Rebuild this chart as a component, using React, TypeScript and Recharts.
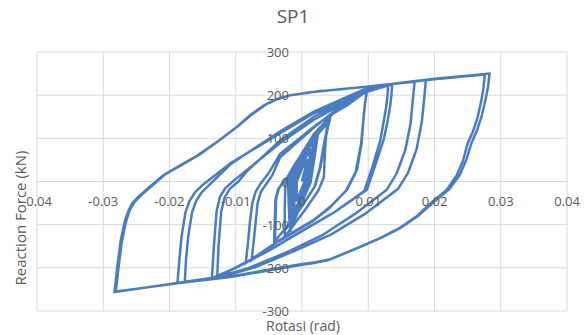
import React from 'react';
import { LineChart, Line, XAxis, YAxis, CartesianGrid } from 'recharts';

// rotation (rad) / reaction force (kN) pairs, grouped by loading stage
const smallCycles: [number, number][] = [
  [0, 0], [0.0004, 25],
  [0.0008, 50], [0.0006, 25], [0.0004, 0], [-0.0002, -22], [-0.0008, -45], [-0.0008, -22], [-0.0008, 0], [0, 30],
  [0.0008, 52], [0.0006, 26], [0.0004, -2], [-0.0002, -24], [-0.0008, -46], [-0.0009, -22], [-0.0009, 0], [0, 40],
  [0.0013, 75], [0.001, 38], [0.0007, 0], [-0.0002, -35], [-0.0011, -70], [-0.0012, -35], [-0.0012, 0], [0, 45],
  [0.0013, 77], [0.001, 38], [0.0007, -2], [-0.0002, -36], [-0.0011, -72], [-0.0012, -35], [-0.0012, 2], [0.0001, 55],
  [0.0018, 95], [0.0014, 48], [0.0009, 0], [-0.0003, -45], [-0.0014, -90], [-0.0015, -45], [-0.0015, 0], [0.0001, 57],
  [0.0018, 97], [0.0014, 48], [0.0009, -2], [-0.0003, -46], [-0.0014, -92], [-0.0015, -45], [-0.0015, 2], [0.0001, 62],
  [0.0022, 110], [0.0017, 55], [0.0011, 0], [-0.0003, -52], [-0.0016, -105], [-0.0018, -52], [-0.0018, 0], [0.0001, 64],
  [0.0022, 112], [0.0017, 56], [0.0011, -2], [-0.0003, -53], [-0.0016, -106], [-0.0018, -52], [-0.0018, 2], [0.0002, 70],
  [0.0025, 122], [0.0019, 60], [0.0013, 0], [-0.0003, -58], [-0.0018, -116], [-0.002, -58], [-0.002, 0], [0.0002, 71],
  [0.0025, 120], [0.0019, 58], [0.0013, -2], [-0.0003, -58], [-0.0018, -115], [-0.002, -56], [-0.0021, 0], [0.0005, 75],
  [0.0038, 135], [0.0035, 80], [0.0033, 10], [0.0025, -20], [0.0005, -65], [-0.0026, -128], [-0.0026, -60], [-0.0025, -5], [-0.0018, 15],
];

const stageB: [number, number][] = [
  [0.0005, 70], [0.003, 124], [0.0043, 150], [0.0039, 125], [0.0035, 95], [0.0028, 35], [0.002, -10], [0.0005, -45], [-0.0015, -90], [-0.0042, -140],
  [-0.0041, -90], [-0.004, -42], [-0.0036, -18], [-0.0029, -2], [-0.0022, 10], [-0.001, 42], [0.0015, 98], [0.0042, 148],
  [0.0038, 122], [0.0034, 94], [0.0027, 32], [0.0019, -12], [0.0004, -48], [-0.0016, -92], [-0.0041, -138],
  [-0.004, -88], [-0.0039, -40], [-0.0035, -16], [-0.0028, -1], [-0.0021, 12],
];

const stageC: [number, number][] = [
  [-0.001, 40], [0.0018, 110], [0.0045, 155], [0.0068, 180], [0.0098, 212],
  [0.0095, 180], [0.0093, 150], [0.009, 89], [0.0083, 27], [0.0068, -19], [0.0043, -58], [0.0018, -89], [-0.0033, -135], [-0.0085, -189],
  [-0.0082, -150], [-0.0079, -100], [-0.0075, -50], [-0.007, -24], [-0.0063, -6], [-0.005, 20], [-0.0033, 64], [0.0018, 127], [0.0045, 156], [0.0068, 176], [0.0098, 210],
  [0.0095, 178], [0.0093, 148], [0.0089, 85], [0.0081, 22], [0.0066, -22], [0.0041, -62], [0.0016, -92], [-0.0035, -138], [-0.0076, -182],
  [-0.0073, -140], [-0.007, -95], [-0.0067, -50], [-0.0062, -24], [-0.0055, -8], [-0.0045, 14],
];

const stageD: [number, number][] = [
  [-0.0033, 56], [0.0018, 125], [0.0045, 158], [0.0068, 182], [0.01, 214], [0.0136, 224],
  [0.0135, 200], [0.0133, 174], [0.0128, 130], [0.0123, 96], [0.011, 35], [0.0098, -19], [0.005, -70], [0, -115], [-0.005, -160], [-0.01, -200], [-0.0136, -224],
  [-0.0133, -150], [-0.0129, -70], [-0.0124, -36], [-0.0116, -16], [-0.0103, 2], [-0.0083, 27], [-0.0033, 89], [0.0018, 143], [0.0068, 185], [0.0098, 208], [0.013, 222],
  [0.0129, 198], [0.0127, 172], [0.0122, 128], [0.0118, 94], [0.0106, 32], [0.0094, -22], [0.0046, -74], [-0.0004, -118], [-0.0052, -162], [-0.0128, -221],
  [-0.0126, -150], [-0.0122, -70], [-0.0117, -38], [-0.0109, -17], [-0.0096, 0],
];

const stageE: [number, number][] = [
  [-0.0083, 24], [-0.0033, 95], [0.0018, 150], [0.0068, 190], [0.01, 216], [0.0136, 226], [0.017, 231],
  [0.0167, 185], [0.0164, 135], [0.0156, 73], [0.0143, 19], [0.0128, -19], [0.008, -75], [0.003, -125], [-0.002, -162], [-0.008, -200], [-0.013, -222], [-0.0188, -235],
  [-0.0185, -180], [-0.0182, -130], [-0.0176, -72], [-0.017, -46], [-0.0162, -26], [-0.015, -8], [-0.0108, 42], [-0.0033, 112], [0.0018, 158], [0.0068, 189], [0.0098, 208], [0.014, 227], [0.0187, 235],
  [0.0184, 185], [0.0181, 140], [0.0173, 75], [0.016, 20], [0.0145, -17], [0.0095, -75], [0.0045, -122], [-0.001, -160], [-0.007, -198], [-0.012, -220], [-0.0177, -232],
  [-0.0175, -180], [-0.0172, -130], [-0.0166, -72], [-0.016, -46], [-0.0152, -26], [-0.0138, -5],
];

const stageF: [number, number][] = [
  [-0.0108, 40], [-0.0033, 116], [0.0018, 162], [0.0068, 196], [0.01, 217], [0.015, 229], [0.02, 238], [0.0283, 250],
  [0.0281, 220], [0.0277, 190], [0.0271, 150], [0.0264, 118], [0.0256, 90], [0.0248, 50], [0.0238, 15], [0.0222, -18], [0.02, -46], [0.0175, -80], [0.0148, -108], [0.012, -130],
  [0.0093, -148], [0.0065, -166], [0.0043, -180], [0.002, -187], [0, -191], [-0.0108, -220], [-0.0188, -235], [-0.0283, -256],
  [-0.0279, -200], [-0.0274, -140], [-0.0268, -95], [-0.0262, -68], [-0.0256, -50], [-0.0246, -34], [-0.0234, -18], [-0.0209, 15], [-0.0185, 36], [-0.0158, 60], [-0.0128, 92], [-0.0098, 127],
  [-0.0078, 154], [-0.0058, 176], [-0.004, 190], [-0.002, 199], [0.0012, 207], [0.01, 220], [0.02, 237], [0.0276, 248],
  [0.0274, 218], [0.0271, 190], [0.0265, 148], [0.0258, 116], [0.025, 88], [0.0243, 48], [0.0233, 13], [0.0218, -20], [0.0196, -48], [0.0172, -82], [0.0145, -110], [0.0117, -132],
  [0.009, -150], [0.0062, -168], [0.004, -182], [0.0018, -189], [0, -193], [-0.0108, -221], [-0.0188, -236], [-0.0281, -255],
  [-0.0277, -200], [-0.0272, -140], [-0.0266, -95], [-0.026, -66], [-0.0253, -48], [-0.0243, -32], [-0.0231, -16], [-0.0206, 17], [-0.0182, 38], [-0.0155, 62], [-0.0125, 95], [-0.0095, 130],
  [-0.0075, 156], [-0.0055, 178], [-0.0037, 191], [-0.0017, 200], [0.003, 210],
];

const xTicks = [-0.04, -0.03, -0.02, -0.01, 0, 0.01, 0.02, 0.03, 0.04];
const yTicks = [-300, -200, -100, 0, 100, 200, 300];

const data = [...smallCycles, ...stageB, ...stageC, ...stageD, ...stageE, ...stageF].map(([rot, force]) => ({ rot, force }));

const W = 586;
const H = 335;
const PLOT_LEFT = 37;
const PLOT_TOP = 52;
const PLOT_RIGHT = 567;
const PLOT_BOTTOM = 311;
const zeroX = (PLOT_LEFT + PLOT_RIGHT) / 2;
const zeroY = (PLOT_TOP + PLOT_BOTTOM) / 2;
const textColor = '#595959';
const font = '"Open Sans", sans-serif';

const renderXTick = (props: any) => {
  const { x, payload } = props;
  return (
    <text x={x} y={zeroY + 24} textAnchor="middle" fill={textColor} fontSize={13} fontFamily={font}>
      {String(payload.value)}
    </text>
  );
};

const renderYTick = (props: any) => {
  const { y, payload } = props;
  return (
    <text x={zeroX - 13} y={y + 5} textAnchor="end" fill={textColor} fontSize={13} fontFamily={font}>
      {String(payload.value)}
    </text>
  );
};

export default function App() {
  return (
    <div style={{ position: 'absolute', left: 0, top: 0, width: W, height: H, background: '#fff', fontFamily: font }}>
      <div style={{ position: 'absolute', left: 0, width: W, top: 3, textAlign: 'center', fontSize: 19, color: textColor }}>
        SP1
      </div>
      <div
        style={{
          position: 'absolute', left: 20, top: 218, transform: 'translate(-50%, -50%) rotate(-90deg)',
          whiteSpace: 'nowrap', fontSize: 15, color: textColor,
        }}
      >
        Reaction Force (kN)
      </div>
      <div style={{ position: 'absolute', left: 0, width: 606, top: 318, textAlign: 'center', fontSize: 14, lineHeight: '16px', color: textColor }}>
        Rotasi (rad)
      </div>
      <div style={{ position: 'absolute', left: 0, top: 0 }}>
        <LineChart
          width={W}
          height={H}
          data={data}
          margin={{ top: PLOT_TOP, right: W - PLOT_RIGHT, bottom: 0, left: 0 }}
        >
          <CartesianGrid stroke="#d9d9d9" strokeWidth={1} />
          <XAxis
            type="number"
            dataKey="rot"
            domain={[-0.04, 0.04]}
            ticks={xTicks}
            height={H - PLOT_BOTTOM}
            axisLine={false}
            tickLine={false}
            tick={renderXTick}
            interval={0}
            allowDataOverflow
          />
          <YAxis
            type="number"
            domain={[-300, 300]}
            ticks={yTicks}
            width={PLOT_LEFT}
            axisLine={false}
            tickLine={false}
            tick={renderYTick}
            interval={0}
            allowDataOverflow
          />
          <Line
            type="linear"
            dataKey="force"
            stroke="#4a7dc0"
            strokeWidth={2.5}
            dot={false}
            isAnimationActive={false}
          />
        </LineChart>
      </div>
    </div>
  );
}
